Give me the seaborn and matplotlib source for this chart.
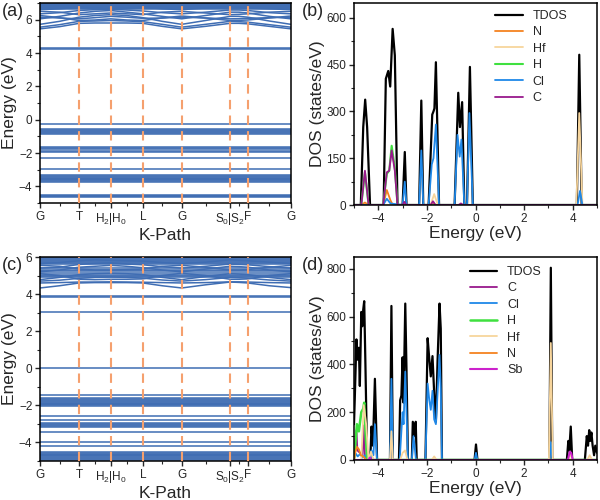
import numpy as np
import pandas as pd
import seaborn as sns
import matplotlib.pyplot as plt
from matplotlib.ticker import MultipleLocator, FixedLocator

#----- k-path (fraction of path length) -----
k_nodes = [0, 0.156, 0.282, 0.410, 0.565, 0.758, 0.828, 1.0]
k_labels = ['G', 'T', 'H$_2$|H$_0$', 'L', 'G', 'S$_0$|S$_2$', 'F', 'G']
k_grid = [0, 0.078, 0.156, 0.219, 0.282, 0.346, 0.410, 0.487, 0.565, 0.66, 0.758, 0.793, 0.828, 0.914, 1.0]

#----- (a) bands -----
a_flat = [4.29, 4.25, -0.25, -0.57, -0.62, -0.67, -0.72, -0.77, -0.86, -1.63, -1.68, -1.78, -1.85, -1.95,
          -2.28, -2.93, -3.33, -3.38, -3.43, -3.48, -3.53, -3.58, -3.63, -3.68, -3.72,
          -4.5, -4.55, -4.6, -4.65, 6.62, 6.68, 6.72, 6.76, 6.8, 6.84, 6.88, 6.92, 6.96, 7.0]
a_curves = [
    [5.45, 5.58, 5.78, 5.8, 5.8, 5.8, 5.78, 5.6, 5.45, 5.6, 5.78, 5.78, 5.75, 5.6, 5.45],
    [5.55, 5.7, 5.9, 5.92, 5.95, 5.92, 5.88, 5.72, 5.55, 5.72, 5.9, 5.88, 5.85, 5.7, 5.55],
    [5.72, 5.9, 6.15, 6.25, 6.3, 6.25, 6.12, 5.9, 5.72, 5.95, 6.2, 6.2, 6.15, 5.92, 5.72],
    [6.25, 6.12, 5.95, 5.98, 6.05, 5.98, 5.95, 6.1, 6.22, 6.1, 5.95, 5.96, 5.98, 6.1, 6.22],
    [6.05, 6.2, 6.4, 6.5, 6.55, 6.45, 6.35, 6.2, 6.05, 6.25, 6.45, 6.45, 6.4, 6.2, 6.05],
    [6.5, 6.45, 6.3, 6.35, 6.4, 6.35, 6.3, 6.45, 6.5, 6.4, 6.3, 6.32, 6.35, 6.45, 6.5],
    [6.6, 6.65, 6.75, 6.7, 6.65, 6.7, 6.75, 6.65, 6.6, 6.7, 6.78, 6.75, 6.7, 6.65, 6.6],
    [6.35, 6.42, 6.55, 6.6, 6.62, 6.58, 6.52, 6.42, 6.35, 6.45, 6.58, 6.58, 6.55, 6.42, 6.35],
    [6.15, 6.1, 6.05, 6.12, 6.2, 6.15, 6.08, 6.1, 6.15, 6.1, 6.05, 6.06, 6.08, 6.12, 6.15],
]

#----- (c) bands -----
c_flat = [3.88, 3.83, 3.05, 0.0, -1.42, -1.6, -1.65, -1.7, -1.75, -1.8, -1.85, -1.9, -1.95, -2.0, -2.05,
          -2.55, -2.78, -2.95, -3.0, -3.05, -3.1, -3.15, -3.44, -4.0, -4.18,
          -4.5, -4.55, -4.6, -4.65, -4.7, -4.75, -4.8, -4.85, -4.9, -4.95,
          4.9, 4.98, 5.05, 5.15, 5.22, 5.28, 5.4, 5.6, 5.66, 5.72, 5.78, 5.84, 5.9, 5.95, 5.99]
c_curves = [
    [4.33, 4.45, 4.6, 4.62, 4.62, 4.62, 4.6, 4.45, 4.33, 4.5, 4.65, 4.63, 4.6, 4.45, 4.35],
    [4.6, 4.62, 4.65, 4.65, 4.66, 4.65, 4.64, 4.62, 4.6, 4.62, 4.66, 4.66, 4.65, 4.62, 4.6],
    [4.78, 4.9, 5.05, 5.1, 5.12, 5.1, 5.05, 4.9, 4.78, 4.95, 5.1, 5.08, 5.05, 4.9, 4.78],
    [5.1, 5.0, 4.8, 4.78, 4.8, 4.8, 4.82, 5.0, 5.12, 5.0, 4.8, 4.8, 4.82, 5.0, 5.1],
    [5.2, 5.3, 5.45, 5.5, 5.55, 5.5, 5.42, 5.3, 5.2, 5.35, 5.5, 5.48, 5.45, 5.3, 5.2],
    [5.55, 5.5, 5.35, 5.3, 5.3, 5.32, 5.35, 5.5, 5.55, 5.45, 5.3, 5.3, 5.32, 5.45, 5.55],
    [5.65, 5.7, 5.8, 5.85, 5.82, 5.8, 5.78, 5.7, 5.65, 5.72, 5.85, 5.82, 5.8, 5.72, 5.65],
    [4.7, 4.75, 4.85, 4.9, 4.92, 4.9, 4.86, 4.76, 4.7, 4.78, 4.9, 4.88, 4.86, 4.76, 4.7],
    [5.4, 5.45, 5.6, 5.65, 5.68, 5.62, 5.58, 5.48, 5.4, 5.5, 5.62, 5.6, 5.58, 5.48, 5.4],
]

#----- (b) DOS -----
b_tdos_e = [-5, -4.72, -4.62, -4.54, -4.46, -4.34, -3.78, -3.69, -3.59, -3.51, -3.41, -3.32, -3.21,
            -3.0, -2.91, -2.84, -2.32, -2.23, -2.15, -1.93, -1.78, -1.73, -1.69, -1.63, -1.50,
            -0.86, -0.71, -0.64, -0.55, -0.46, -0.35, -0.23, -0.11, 4.17, 4.27, 4.37, 5]
b_tdos = [0, 0, 250, 338, 250, 0, 0, 405, 430, 380, 565, 480, 0, 0, 170, 0, 0, 335, 0, 0, 290, 300,
          310, 458, 0, 0, 360, 250, 330, 0, 0, 443, 0, 0, 482, 0, 0]
b_n_e = [-5, -4.7, -4.55, -4.4, -3.8, -3.65, -3.5, -3.4, -1.85, -1.75, -1.65, 5]
b_n = [0, 0, 8, 0, 0, 48, 15, 0, 0, 10, 0, 0]
b_hf_e = [-5, -1.85, -1.7, -1.55, 4.15, 4.27, 4.4, 5]
b_hf = [0, 0, 35, 0, 0, 295, 0, 0]
b_h_e = [-5, -4.7, -4.55, -4.4, -3.8, -3.65, -3.55, -3.45, -3.32, -3.21, 5]
b_h = [0, 0, 105, 0, 0, 100, 110, 190, 120, 0, 0]
b_cl_e = [-5, -3.8, -3.65, -3.5, -3.0, -2.91, -2.84, -2.32, -2.23, -2.15, -1.93, -1.8, -1.73, -1.63,
          -1.5, -0.86, -0.74, -0.65, -0.58, -0.46, -0.35, -0.25, -0.11, 4.2, 4.3, 4.4, 5]
b_cl = [0, 0, 20, 5, 0, 75, 0, 0, 175, 0, 0, 130, 150, 258, 0, 0, 225, 155, 210, 0, 0, 295, 0, 0, 45, 0, 0]
b_c_e = [-5, -4.7, -4.55, -4.4, -3.8, -3.65, -3.55, -3.45, -3.32, -3.21, -3.0, -2.93, -2.85,
         -1.85, -1.75, -1.65, -0.7, -0.6, -0.5, 5]
b_c = [0, 0, 110, 0, 0, 105, 110, 175, 110, 0, 0, 10, 0, 0, 12, 0, 0, 5, 0, 0]

#----- (d) DOS -----
d_tdos_e = [-5, -4.97, -4.9, -4.85, -4.8, -4.76, -4.7, -4.66, -4.62, -4.58, -4.53, -4.46, -4.33, -4.28,
            -4.22, -4.14, -4.05, -3.52, -3.46, -3.4, -3.15, -3.1, -3.05, -3.0, -2.96, -2.89, -2.84,
            -2.78, -2.62, -2.58, -2.5, -2.46, -2.42, -2.06, -1.97, -1.9, -1.84, -1.77, -1.7, -1.63,
            -1.56, -1.48, -1.43, -1.38, -0.04, 0.02, 0.08, 3.04, 3.1, 3.16, 3.76, 3.82, 3.86, 3.92,
            3.98, 4.5, 4.58, 4.63, 4.68, 4.72, 4.77, 4.82, 4.88, 4.93, 5.0]
d_tdos = [150, 250, 505, 420, 470, 310, 620, 560, 630, 665, 400, 0, 0, 140, 60, 340, 0, 0, 645, 0, 0,
          250, 270, 430, 240, 655, 380, 0, 0, 160, 100, 160, 0, 0, 510, 420, 350, 435, 280, 160, 420,
          655, 550, 0, 0, 65, 0, 0, 805, 0, 0, 80, 40, 140, 0, 0, 100, 60, 125, 80, 115, 60, 20, 60, 30]
d_c_e = [-5, -4.95, -4.9, -4.86, -4.65, -4.6, -4.55, -4.3, -4.25, -4.2, 5]
d_c = [0, 60, 125, 40, 20, 145, 10, 0, 10, 0, 0]
d_cl_e = [-5, -4.95, -4.85, -4.75, -4.65, -4.55, -4.45, -4.33, -4.28, -4.2, -4.14, -4.05, -3.52, -3.46,
          -3.4, -3.12, -3.05, -3.0, -2.96, -2.89, -2.84, -2.78, -2.62, -2.55, -2.45, -2.06, -1.97, -1.9,
          -1.84, -1.77, -1.7, -1.63, -1.56, -1.48, -1.43, -1.38, -0.04, 0.02, 0.08, 3.04, 3.1, 3.16, 5]
d_cl = [20, 30, 15, 25, 10, 20, 0, 0, 40, 20, 150, 0, 0, 340, 0, 0, 120, 200, 150, 370, 200, 0, 0, 100,
        0, 0, 320, 250, 210, 290, 170, 150, 280, 440, 300, 0, 0, 30, 0, 0, 75, 0, 0]
d_h_e = [-5, -4.95, -4.88, -4.8, -4.7, -4.62, -4.58, -4.52, -4.45, 5]
d_h = [0, 60, 150, 120, 200, 215, 240, 100, 0, 0]
d_hf_e = [-5, -4.7, -4.6, -4.5, -4.4, -4.3, -4.2, -3.52, -3.46, -3.4, -3.1, -3.0, -2.9, -2.8, -1.8, -1.7,
          -1.6, 3.02, 3.1, 3.18, 3.82, 3.9, 3.98, 4.6, 4.7, 4.8, 5]
d_hf = [0, 0, 230, 150, 0, 35, 0, 0, 120, 0, 0, 30, 40, 0, 0, 15, 0, 0, 490, 0, 0, 30, 0, 0, 20, 0, 0]
d_n_e = [-5, -4.95, -4.88, -4.8, -4.72, -4.62, -4.5, 5]
d_n = [0, 30, 55, 45, 20, 15, 0, 0]
d_sb_e = [-5, -4.4, -4.35, -4.3, 3.8, 3.88, 3.94, 4.0, 5]
d_sb = [0, 0, 10, 0, 0, 35, 30, 0, 0]

#----- colours -----
band_color = '#3f6db3'
dash_color = '#f5a06e'
colors = {'TDOS': 'black', 'N': '#f58220', 'Hf': '#f7d59c', 'H': '#3fe03f',
          'Cl': '#1f88e8', 'C': '#99198c', 'Sb': '#cc22cc'}

#----- style -----
sns.set_theme(style='ticks')
plt.rcParams['font.family'] = ['Liberation Sans', 'DejaVu Sans']
plt.rcParams['mathtext.fontset'] = 'custom'
plt.rcParams['mathtext.rm'] = 'Liberation Sans'
plt.rcParams['mathtext.it'] = 'Liberation Sans:italic'
plt.rcParams['axes.linewidth'] = 1.1
plt.rcParams['axes.edgecolor'] = 'black'

fig = plt.figure(figsize=(6, 5), dpi=100)
ax_a = fig.add_axes([0.0667, 0.594, 0.418, 0.4])
ax_b = fig.add_axes([0.59, 0.59, 0.405, 0.404])
ax_c = fig.add_axes([0.0667, 0.078, 0.418, 0.408])
ax_d = fig.add_axes([0.59, 0.08, 0.405, 0.406])


def draw_bands(ax, flats, curves, ylim):
    rows = []
    for i, e in enumerate(flats):
        rows += [(k_nodes[0], e, 'f%d' % i), (k_nodes[-1], e, 'f%d' % i)]
    for i, c in enumerate(curves):
        rows += [(k, e, 'c%d' % i) for k, e in zip(k_grid, c)]
    df = pd.DataFrame(rows, columns=['k', 'E', 'band'])
    sns.lineplot(data=df, x='k', y='E', units='band', estimator=None, color=band_color,
                 lw=1.1, ax=ax, legend=False, sort=False)
    for kv in k_nodes[1:-1]:
        ax.axvline(kv, color=dash_color, ls=(0, (4.5, 3)), lw=1.5, zorder=3)
    ax.set_xlim(0, 1)
    ax.set_ylim(*ylim)
    ax.set_xticks(k_nodes)
    ax.set_xticklabels(k_labels)
    mids = [(k_nodes[i] + k_nodes[i + 1]) / 2 for i in range(len(k_nodes) - 1)]
    ax.xaxis.set_minor_locator(FixedLocator(mids))
    ax.yaxis.set_major_locator(MultipleLocator(2))
    ax.yaxis.set_minor_locator(MultipleLocator(1))
    ax.set_xlabel('K-Path', fontsize=12.5, labelpad=1)
    ax.set_ylabel('Energy (eV)', fontsize=12.5, labelpad=1)


def draw_dos(ax, series, ylim, ystep, leg_anchor):
    for name, e, v, lw in series:
        sns.lineplot(x=e, y=v, color=colors[name], lw=lw, label=name, ax=ax, estimator=None)
    ax.set_xlim(-5, 5)
    ax.set_ylim(*ylim)
    ax.xaxis.set_major_locator(MultipleLocator(2))
    ax.xaxis.set_minor_locator(MultipleLocator(1))
    ax.yaxis.set_major_locator(MultipleLocator(ystep))
    ax.yaxis.set_minor_locator(MultipleLocator(ystep / 2))
    ax.set_xlabel('Energy (eV)', fontsize=12.5, labelpad=1)
    ax.set_ylabel('DOS (states/eV)', fontsize=12.5, labelpad=1)
    ax.legend(frameon=False, fontsize=9, loc='upper left', bbox_to_anchor=leg_anchor,
              handlelength=2.2, labelspacing=0.35, borderaxespad=0)


draw_bands(ax_a, a_flat, a_curves, (-5, 7))
draw_bands(ax_c, c_flat, c_curves, (-5, 6))

draw_dos(ax_b, [('TDOS', b_tdos_e, b_tdos, 1.6), ('N', b_n_e, b_n, 1.3), ('Hf', b_hf_e, b_hf, 1.3),
                ('H', b_h_e, b_h, 1.5), ('Cl', b_cl_e, b_cl, 1.3), ('C', b_c_e, b_c, 1.3)],
         (0, 648), 150, (0.56, 0.99))
draw_dos(ax_d, [('TDOS', d_tdos_e, d_tdos, 1.6), ('C', d_c_e, d_c, 1.3), ('Cl', d_cl_e, d_cl, 1.3),
                ('H', d_h_e, d_h, 1.8), ('Hf', d_hf_e, d_hf, 1.3), ('N', d_n_e, d_n, 1.3),
                ('Sb', d_sb_e, d_sb, 1.5)],
         (0, 850), 200, (0.455, 0.98))

for ax in [ax_a, ax_b, ax_c, ax_d]:
    ax.tick_params(which='major', direction='out', length=3.5, width=1, labelsize=8.5, pad=2)
    ax.tick_params(which='minor', direction='out', length=2, width=0.8)

fig.text(0.003, 0.995, '(a)', fontsize=13, va='top')
fig.text(0.503, 0.995, '(b)', fontsize=13, va='top')
fig.text(0.003, 0.485, '(c)', fontsize=13, va='top')
fig.text(0.503, 0.485, '(d)', fontsize=13, va='top')

fig.savefig('out.png', dpi=100)
